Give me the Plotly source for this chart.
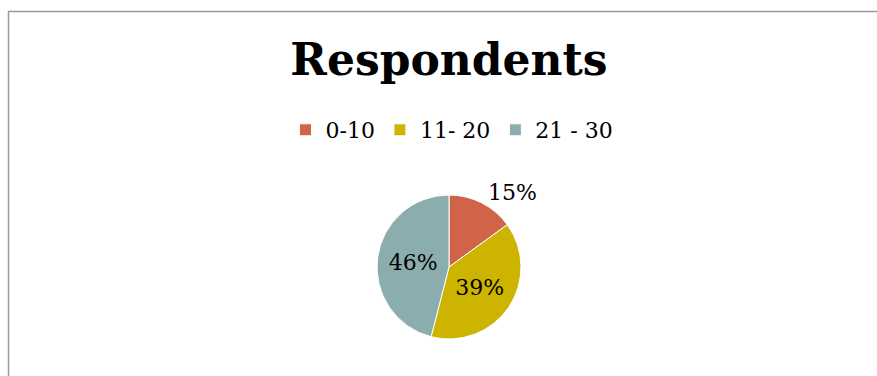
import plotly.graph_objects as go

# Respondent age groups and their shares
groups = ["0-10", "11- 20", "21 - 30"]
shares = [15, 39, 46]
colors = ["#D16349", "#CCB400", "#8CADAE"]
label_positions = ["outside", "inside", "inside"]

W, H = 877, 376
SERIF = "DejaVu Serif"

fig = go.Figure(
    go.Pie(
        labels=groups,
        values=shares,
        sort=False,
        direction="clockwise",
        rotation=0,
        marker=dict(colors=colors, line=dict(color="white", width=1)),
        texttemplate="%{percent:.0%}",
        textposition=label_positions,
        insidetextorientation="horizontal",
        textfont=dict(family=SERIF, size=22, color="black"),
        domain=dict(x=[377 / W, 521 / W], y=[1 - 339 / H, 1 - 195 / H]),
        hoverinfo="label+percent",
    )
)

fig.update_layout(
    width=W,
    height=H,
    margin=dict(l=0, r=0, t=0, b=0),
    paper_bgcolor="white",
    plot_bgcolor="white",
    font=dict(family=SERIF, color="black"),
    uniformtext=dict(minsize=22, mode="show"),
    title=dict(
        text="<b>Respondents</b>",
        font=dict(family=SERIF, size=44, color="black"),
        x=449 / W,
        xanchor="center",
        y=1 - 60 / H,
        yanchor="middle",
        yref="container",
    ),
    legend=dict(
        orientation="h",
        x=452 / W,
        xanchor="center",
        y=1 - 130 / H,
        yanchor="middle",
        font=dict(family=SERIF, size=22, color="black"),
        itemwidth=30,
    ),
    shapes=[
        dict(
            type="rect",
            xref="paper",
            yref="paper",
            x0=8.5 / W,
            x1=1.05,
            y0=-0.05,
            y1=1 - 11.5 / H,
            line=dict(color="#9A9A9A", width=1.5),
            fillcolor="rgba(0,0,0,0)",
            layer="below",
        )
    ],
)

fig.write_html("out.html")
